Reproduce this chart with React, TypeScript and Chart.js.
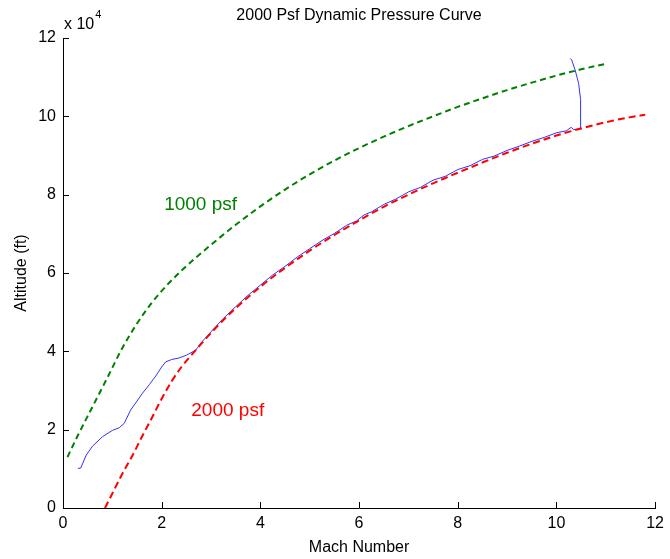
import React, { useEffect, useRef } from "react";
import { Chart, registerables } from "chart.js";

Chart.register(...registerables);

// Mach numbers and altitudes (ft)
const psf1000Mach = [0.09, 0.3, 0.6, 0.9, 1.2, 1.5, 1.8, 2.1, 2.4, 2.7, 3.0, 3.5, 4.0, 4.5, 5.0, 5.5, 6.0, 6.5, 7.0, 7.5, 8.0, 8.5, 9.0, 9.5, 10.0, 10.5, 11.0];
const psf1000Alt = [13000, 18500, 25900, 33300, 40800, 47100, 52400, 56800, 60600, 64000, 67200, 72300, 77000, 81300, 85200, 88700, 91900, 94800, 97500, 100000, 102400, 104600, 106700, 108600, 110400, 112000, 113400];

const psf2000Mach = [0.85, 1.0, 1.2, 1.4, 1.6, 1.8, 2.0, 2.2, 2.4, 2.6, 2.8, 3.0, 3.25, 3.5, 4.0, 4.5, 5.0, 5.5, 6.0, 6.5, 7.0, 7.5, 8.0, 8.5, 9.0, 9.5, 10.0, 10.5, 11.0, 11.5, 11.8];
const psf2000Alt = [0, 3700, 8700, 13200, 18200, 23000, 27900, 32300, 36000, 39000, 41900, 44700, 48000, 51000, 56500, 61300, 65700, 69700, 73400, 76900, 80000, 82900, 85600, 88200, 90700, 93000, 95100, 96900, 98500, 99800, 100400];

const flightMach = [0.30, 0.36, 0.47, 0.6, 0.8, 1.0, 1.14, 1.24, 1.37, 1.5, 1.61, 1.75, 1.88, 2.0, 2.08, 2.2, 2.35, 2.5, 2.69, 2.8, 3.0, 3.25, 3.5, 3.75, 4.0, 4.25, 4.5, 4.75, 5.0, 5.25, 5.5, 5.75, 5.95, 6.1, 6.25, 6.5, 6.75, 7.0, 7.25, 7.5, 7.75, 8.0, 8.25, 8.5, 8.75, 9.0, 9.25, 9.5, 9.75, 10.0, 10.2, 10.3, 10.35, 10.41, 10.49, 10.49, 10.45, 10.38, 10.31, 10.28];
const flightAlt = [10100, 10200, 13500, 15800, 18200, 19800, 20500, 21600, 25000, 27300, 29300, 31500, 33700, 36000, 37300, 37900, 38300, 39000, 40300, 42200, 45000, 48400, 51400, 54300, 56900, 59500, 61700, 64100, 66200, 68300, 70100, 72200, 73300, 74800, 75600, 77500, 78900, 80700, 81900, 83700, 84700, 86400, 87400, 89000, 89900, 91300, 92400, 93600, 94600, 95800, 96300, 97200, 96600, 96700, 96900, 104300, 108400, 111800, 114400, 114800];

const xTicks = [0, 2, 4, 6, 8, 10, 12];
const yTicks = [0, 20000, 40000, 60000, 80000, 100000, 120000];

const titleText = "2000 Psf Dynamic Pressure Curve";
const label1000 = "1000 psf";
const label2000 = "2000 psf";

const toPoints = (xs: number[], ys: number[]) => xs.map((x, i) => ({ x, y: ys[i] }));

const FONT = "'Liberation Sans', Arial, sans-serif";

const decorPlugin = {
  id: "decor",
  afterDraw(chart: any) {
    const ctx = chart.ctx;
    const xs = chart.scales.x;
    const ys = chart.scales.y;
    const area = chart.chartArea;
    ctx.save();
    // inward ticks
    ctx.strokeStyle = "#000";
    ctx.lineWidth = 1;
    ctx.beginPath();
    xTicks.forEach((v) => {
      const px = Math.round(xs.getPixelForValue(v)) + 0.5;
      ctx.moveTo(px, area.bottom);
      ctx.lineTo(px, area.bottom - 6);
    });
    yTicks.forEach((v) => {
      const py = Math.round(ys.getPixelForValue(v)) + 0.5;
      ctx.moveTo(area.left, py);
      ctx.lineTo(area.left + 6, py);
    });
    ctx.stroke();

    // title
    ctx.fillStyle = "#000";
    ctx.font = `16px ${FONT}`;
    ctx.textAlign = "center";
    ctx.textBaseline = "middle";
    ctx.fillText(titleText, (area.left + area.right) / 2, 16);

    // exponent label
    ctx.textAlign = "left";
    ctx.textBaseline = "alphabetic";
    ctx.font = `16px ${FONT}`;
    ctx.fillText("x 10", area.left + 1, 29);
    const w = ctx.measureText("x 10").width;
    ctx.font = `11px ${FONT}`;
    ctx.fillText("4", area.left + w + 2, 18);

    // curve labels
    ctx.font = `19px ${FONT}`;
    ctx.textBaseline = "middle";
    ctx.fillStyle = "#008000";
    ctx.fillText(label1000, xs.getPixelForValue(2.05), ys.getPixelForValue(77300));
    ctx.fillStyle = "#ff0000";
    ctx.fillText(label2000, xs.getPixelForValue(2.6), ys.getPixelForValue(24900));
    ctx.restore();
  },
};

export default function App() {
  const ref = useRef<HTMLCanvasElement | null>(null);
  useEffect(() => {
    if (!ref.current) return;
    const chart = new Chart(ref.current, {
      type: "line",
      data: {
        datasets: [
          {
            label: label2000,
            data: toPoints(psf2000Mach, psf2000Alt),
            borderColor: "#ff0000",
            borderWidth: 2,
            borderDash: [7, 4],
            pointRadius: 0,
            cubicInterpolationMode: "monotone",
            fill: false,
          },
          {
            label: label1000,
            data: toPoints(psf1000Mach, psf1000Alt),
            borderColor: "#008000",
            borderWidth: 2,
            borderDash: [6, 4],
            pointRadius: 0,
            cubicInterpolationMode: "monotone",
            fill: false,
          },
          {
            label: "Trajectory",
            data: toPoints(flightMach, flightAlt),
            borderColor: "rgb(50,50,255)",
            borderWidth: 1,
            pointRadius: 0,
            tension: 0,
            fill: false,
          },
        ],
      },
      options: {
        responsive: false,
        animation: false,
        layout: { padding: { top: 38, right: 11, left: 0, bottom: 0 } },
        plugins: {
          legend: { display: false },
          tooltip: { enabled: false },
          title: { display: false },
        },
        scales: {
          x: {
            type: "linear",
            min: 0,
            max: 12,
            afterBuildTicks: (s: any) => {
              s.ticks = xTicks.map((v) => ({ value: v }));
            },
            afterFit: (s: any) => {
              s.height = 51;
            },
            grid: { display: false, drawTicks: false },
            border: { display: true, color: "#000", width: 1 },
            ticks: {
              color: "#000",
              font: { family: FONT, size: 16 },
              padding: 6,
              maxRotation: 0,
              callback: (v: any) => String(v),
            },
            title: {
              display: true,
              text: "Mach Number",
              color: "#000",
              font: { family: FONT, size: 16 },
              padding: { top: 0, bottom: 2 },
            },
          },
          y: {
            type: "linear",
            min: 0,
            max: 120000,
            afterBuildTicks: (s: any) => {
              s.ticks = yTicks.map((v) => ({ value: v }));
            },
            afterFit: (s: any) => {
              s.width = 63;
            },
            grid: { display: false, drawTicks: false },
            border: { display: true, color: "#000", width: 1 },
            ticks: {
              color: "#000",
              font: { family: FONT, size: 16 },
              padding: 7,
              callback: (v: any) => String(Number(v) / 10000),
            },
            title: {
              display: true,
              text: "Altitude (ft)",
              color: "#000",
              font: { family: FONT, size: 16 },
              padding: { top: 12, bottom: 0 },
            },
          },
        },
      },
      plugins: [decorPlugin],
    });
    return () => chart.destroy();
  }, []);
  return (
    <div style={{ position: "absolute", left: 0, top: 0, width: 670, height: 559, background: "#fff" }}>
      <canvas ref={ref} width={670} height={559} style={{ width: 670, height: 559 }} />
    </div>
  );
}
